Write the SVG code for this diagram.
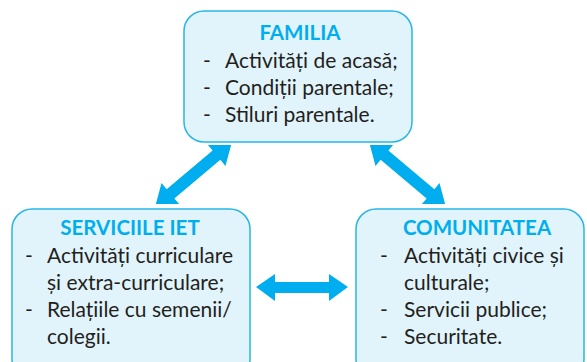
<svg xmlns="http://www.w3.org/2000/svg" width="587" height="362" viewBox="0 0 587 362">
<defs>
<style>
.box{fill:#E1F4FB;stroke:#29B5E8;stroke-width:1.5}
.title{font-family:Lato,"Open Sans",sans-serif;font-weight:bold;font-size:20.5px;fill:#00AEEF;text-anchor:middle}
.txt{font-family:Lato,"Open Sans",sans-serif;font-size:21px;fill:#231F20}
.arr{fill:#00AEEF}
</style>
<polygon id="dbl" points="-50,0 -30,-14 -30,-6 30,-6 30,-14 50,0 30,14 30,6 -30,6 -30,14"/>
<clipPath id="clipd"><rect x="0" y="145" width="587" height="59"/></clipPath>
</defs>
<rect width="587" height="362" fill="#FFFFFF"/>
<g id="connectors" class="arr">
<g clip-path="url(#clipd)">
<use href="#dbl" transform="translate(193.5,174.5) rotate(-40)"/>
<use href="#dbl" transform="translate(407.5,174.5) rotate(40)"/>
</g>
<polygon points="256,287 275,274 275,282 329,282 329,274 348,287 329,301 329,293 275,293 275,301"/>
</g>
<g id="familia">
<rect class="box" x="184" y="11" width="228" height="131" rx="20"/>
<text class="title" x="300" y="40">FAMILIA</text>
<text class="txt" x="203" y="68">-</text><text class="txt" x="225" y="68">Activități de acasă;</text>
<text class="txt" x="203" y="95">-</text><text class="txt" x="225" y="95">Condiții parentale;</text>
<text class="txt" x="203" y="122">-</text><text class="txt" x="225" y="122">Stiluri parentale.</text>
</g>
<g id="servicii">
<rect class="box" x="12" y="209" width="238" height="170" rx="20"/>
<text class="title" x="130" y="235">SERVICIILE IET</text>
<text class="txt" x="25" y="263">-</text><text class="txt" x="47" y="263">Activități curriculare</text>
<text class="txt" x="47" y="290">și extra-curriculare;</text>
<text class="txt" x="25" y="317">-</text><text class="txt" x="47" y="317">Relațiile cu semenii/</text>
<text class="txt" x="47" y="344">colegii.</text>
</g>
<g id="comunitatea">
<rect class="box" x="356" y="209" width="228" height="170" rx="20"/>
<text class="title" x="477" y="235">COMUNITATEA</text>
<text class="txt" x="380" y="263">-</text><text class="txt" x="404" y="263">Activități civice și</text>
<text class="txt" x="404" y="290">culturale;</text>
<text class="txt" x="380" y="317">-</text><text class="txt" x="404" y="317">Servicii publice;</text>
<text class="txt" x="380" y="344">-</text><text class="txt" x="404" y="344">Securitate.</text>
</g>
</svg>
